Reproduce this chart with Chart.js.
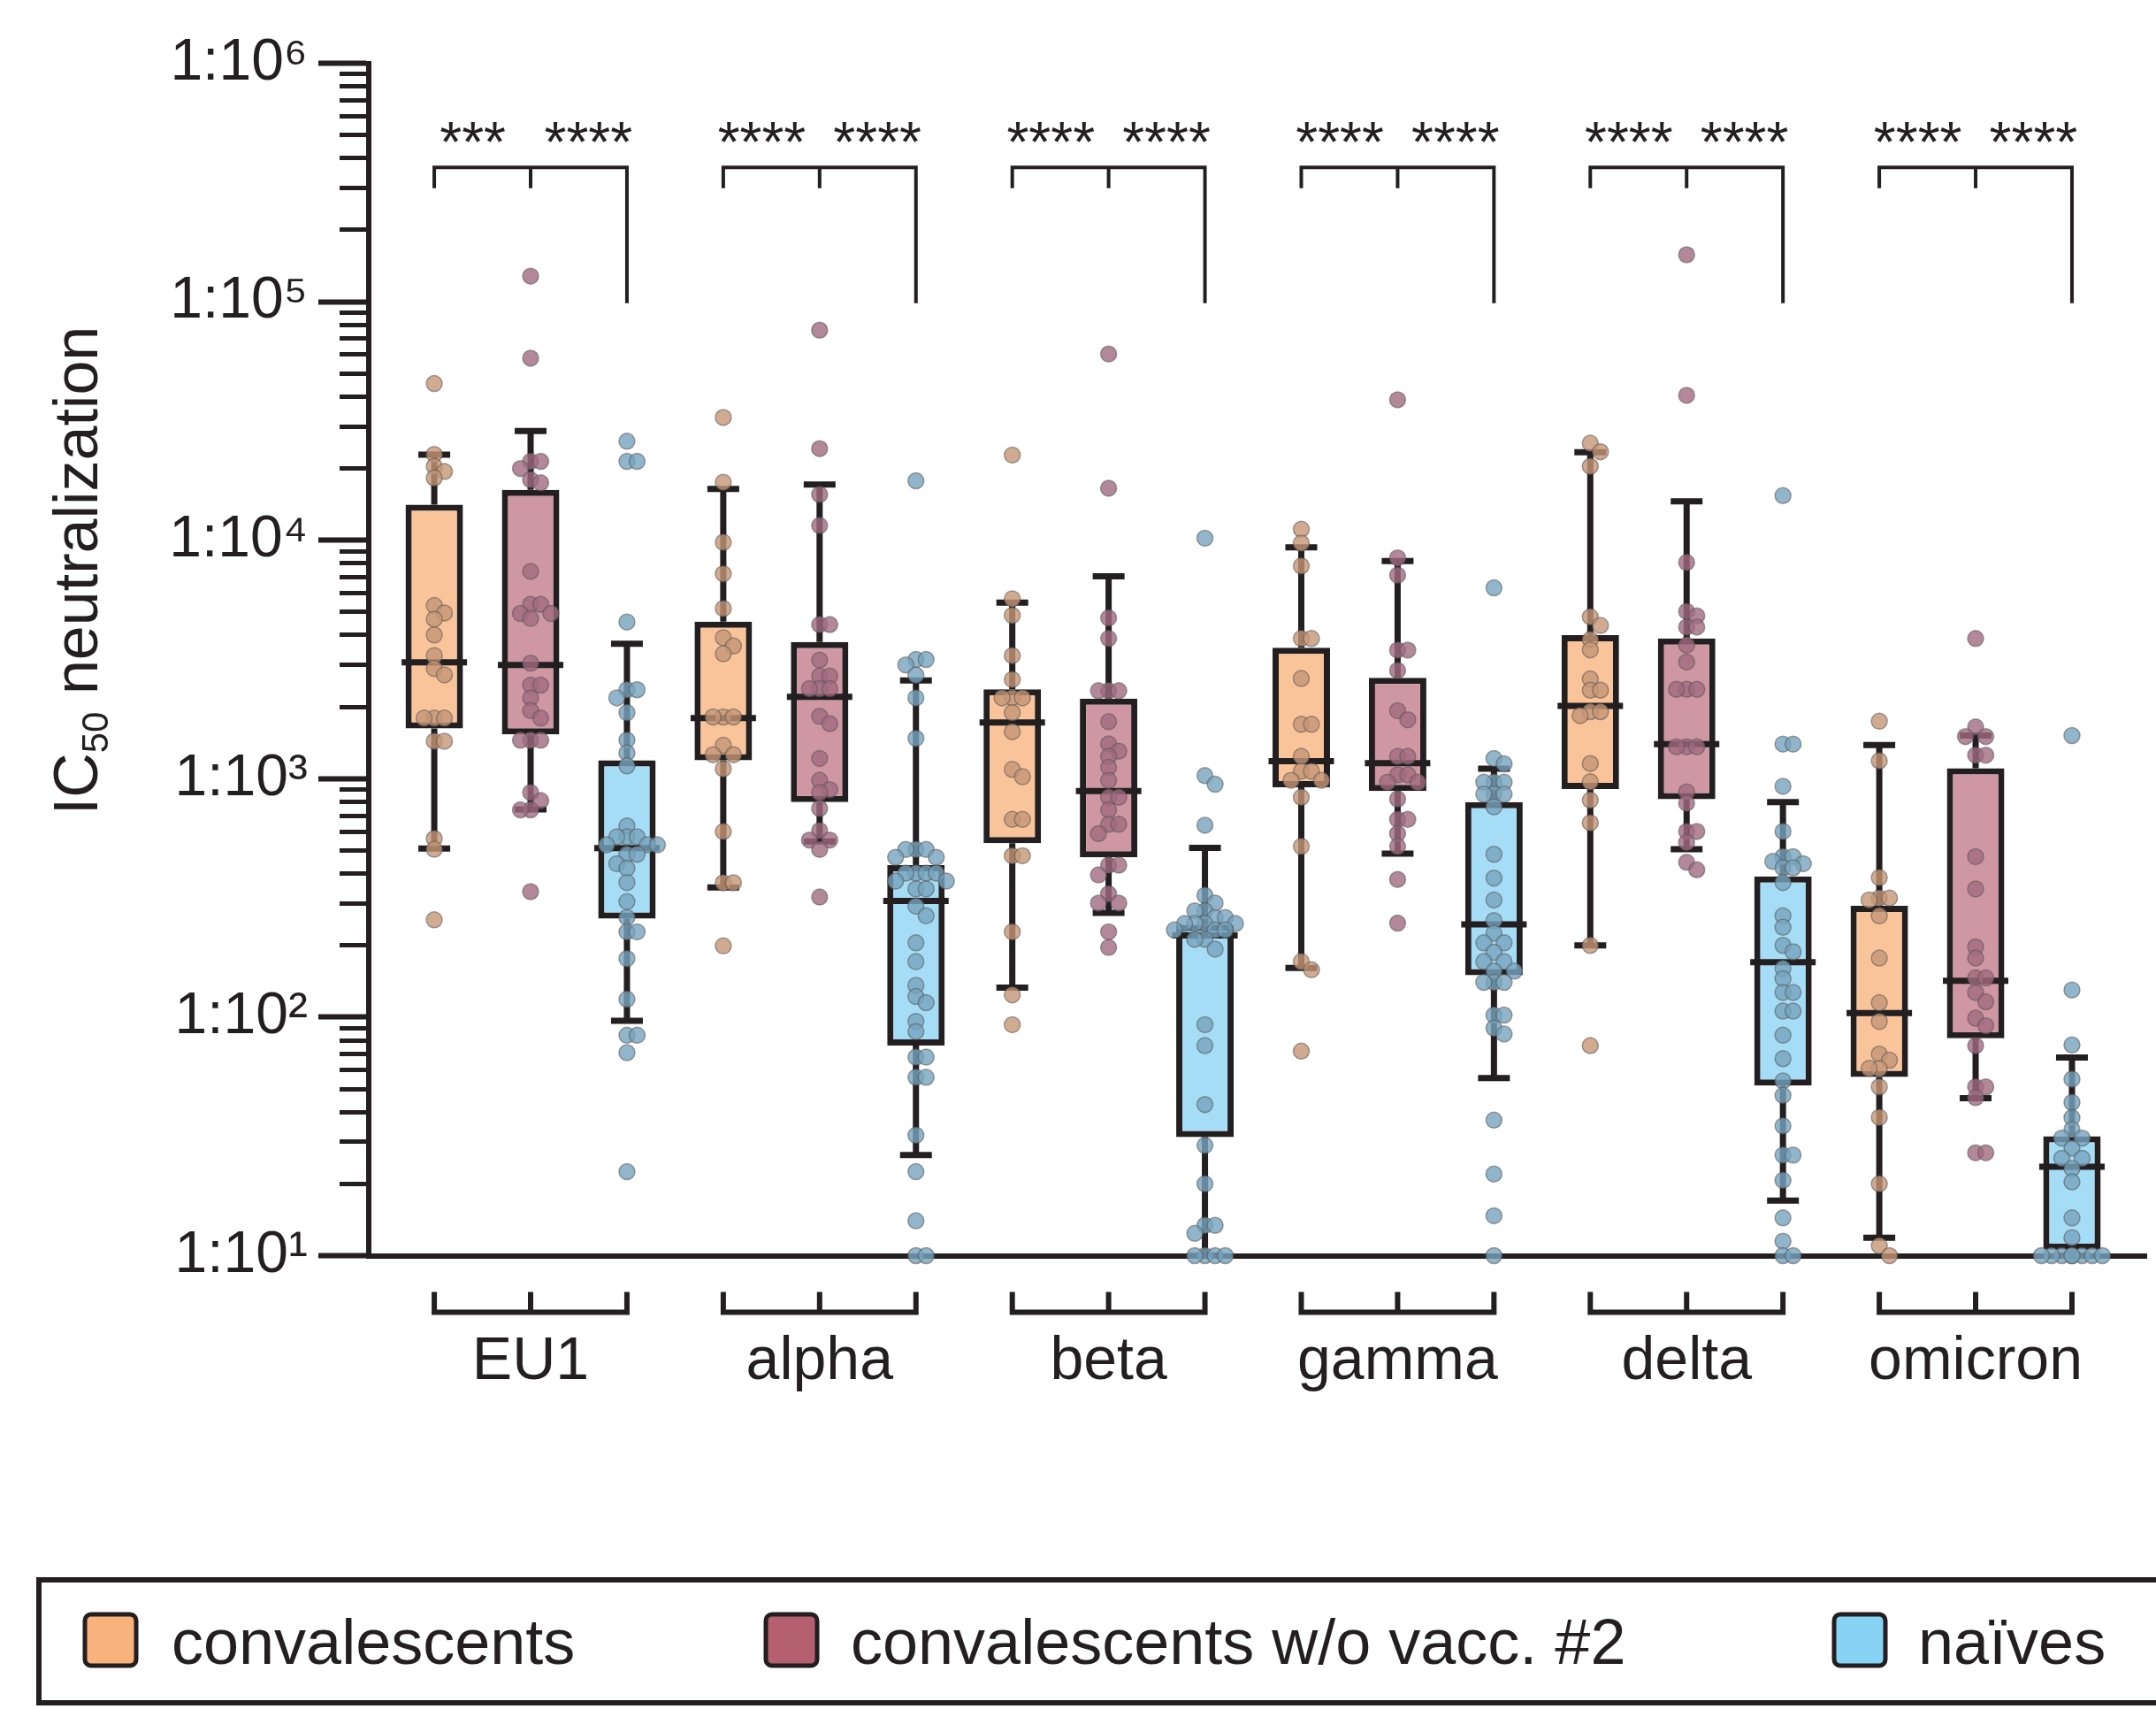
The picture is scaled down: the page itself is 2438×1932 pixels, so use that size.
<!DOCTYPE html>
<html>
<head>
<meta charset="utf-8">
<title>IC50 neutralization by SARS-CoV-2 variant</title>
<script src="https://cdn.jsdelivr.net/npm/chart.js@4.4.1/dist/chart.umd.min.js"></script>
<style>
  html, body { margin: 0; padding: 0; background: #ffffff; }
  canvas { display: block; }
</style>
</head>
<body>
<canvas id="chart" width="2438" height="1932"></canvas>
<script>
// ---- categories and series ----
const variants = ['EU1', 'alpha', 'beta', 'gamma', 'delta', 'omicron'];
const cohorts = ['convalescents', 'convalescents w/o vacc. #2', 'naïves'];

// ---- y-axis tick labels ----
const decadeLabels = ['1:10¹', '1:10²', '1:10³', '1:10⁴', '1:10⁵', '1:10⁶'];
const minorMultipliers = [1, 2, 3, 4, 5, 6, 7, 8, 9];

// significance: [convalescents vs naïves, w/o vacc. #2 vs naïves] per variant
const significance = [
  ['***', '****'], ['****', '****'], ['****', '****'],
  ['****', '****'], ['****', '****'], ['****', '****']
];

// ---- box statistics (one value per variant) ----
const convWhiskerLow  = [509, 350, 133, 161, 200, 11.9];
const convQ1          = [1626, 1194, 536, 920, 905, 56.1];
const convMedian      = [3076, 1795, 1721, 1183, 2018, 104];
const convQ3          = [14090, 4560, 2368, 3540, 4000, 293];
const convWhiskerHigh = [22850, 16400, 5470, 9330, 23400, 1384];

const woVaccWhiskerLow  = [743, 545, 274, 485, 506, 45.7];
const woVaccQ1          = [1532, 798, 468, 887, 820, 81.6];
const woVaccMedian      = [3000, 2206, 887, 1161, 1397, 142];
const woVaccQ3          = [16250, 3740, 2168, 2650, 3870, 1107];
const woVaccWhiskerHigh = [28700, 17130, 7060, 8170, 14550, 1517];

const naiveWhiskerLow  = [96.6, 26.4, 10, 55.6, 17, 10];
const naiveQ1          = [259, 76, 31.4, 150, 51.6, 10.6];
const naiveMedian      = [512, 307, 220, 245, 170, 23.6];
const naiveQ3          = [1194, 434, 244, 798, 389, 31.7];
const naiveWhiskerHigh = [3680, 2580, 513, 1101, 798, 67.8];

// ---- individual IC50 titers (one list per variant) ----
const convTiters = [
  [45400, 22900, 20400, 19400, 18250, 5320, 4955, 4667, 4008, 3281, 2899, 2725, 1795, 1795, 1795, 1436, 1436, 561, 506, 256],
  [32700, 17500, 9800, 7230, 5170, 3900, 3600, 3340, 1815, 1815, 1815, 1380, 1260, 1260, 1100, 600, 366, 366, 199],
  [22750, 5680, 4840, 3280, 2605, 2183, 2183, 2183, 1893, 1574, 1094, 1019, 675, 675, 475, 475, 228, 124, 93],
  [11120, 9730, 7800, 3870, 3870, 2630, 1690, 1690, 1240, 1074, 1074, 984, 984, 836, 520, 171, 158, 72],
  [25500, 23500, 20400, 4770, 4390, 3830, 3470, 2620, 2350, 2350, 1910, 1910, 1840, 1157, 970, 813, 653, 200, 76],
  [1742, 1189, 385, 316, 316, 310, 266, 177, 115, 96, 70, 66, 61, 61, 51, 38, 20, 11, 10]
];
const woVaccTiters = [
  [128000, 58000, 21400, 21400, 19970, 17930, 17400, 7400, 5380, 5380, 4930, 4930, 4700, 3050, 2467, 2467, 2183, 1929, 1795, 1450, 1450, 1450, 875, 809, 740, 740, 336],
  [76000, 24200, 15550, 11530, 4430, 4430, 3144, 2697, 2697, 2384, 2384, 2384, 1827, 1702, 1216, 985, 900, 875, 750, 606, 553, 553, 505, 319],
  [60400, 16520, 4720, 3870, 2339, 2339, 2339, 1734, 1400, 1305, 1240, 1115, 984, 836, 836, 740, 644, 644, 588, 434, 434, 395, 329, 301, 301, 228, 196],
  [38800, 8430, 7140, 3460, 3460, 2845, 1928, 1766, 1240, 1240, 1038, 1038, 966, 966, 822, 675, 675, 588, 520, 378, 248],
  [157400, 40500, 8070, 5030, 4820, 4320, 4320, 3630, 3084, 2370, 2370, 2370, 1361, 1361, 1361, 881, 790, 601, 601, 540, 446, 415],
  [3870, 1648, 1502, 1502, 1255, 1255, 471, 345, 197, 177, 146, 146, 127, 116, 99, 92, 76, 51, 51, 46, 27, 27]
];
const naiveTiters = [
  [26000, 21400, 21400, 4540, 2360, 2360, 2183, 1893, 1452, 1282, 1132, 634, 570, 570, 570, 528, 528, 528, 482, 482, 440, 421, 367, 305, 262, 228, 228, 176, 119, 84, 84, 71, 22.5],
  [17740, 3160, 3160, 3000, 2718, 2183, 1476, 505, 505, 505, 468, 468, 402, 402, 402, 402, 372, 372, 345, 345, 292, 266, 205, 171, 136, 122, 115, 96, 87, 68, 68, 56, 56, 32, 22.5, 14, 10, 10],
  [10200, 1030, 948, 638, 324, 301, 279, 279, 262, 262, 247, 247, 247, 247, 232, 232, 232, 212, 212, 193, 93, 76, 43, 29, 20, 13.4, 13.4, 12.4, 10, 10, 10, 10],
  [6310, 1216, 1154, 966, 966, 966, 861, 861, 861, 762, 482, 383, 310, 254, 225, 205, 205, 187, 171, 171, 156, 156, 140, 140, 140, 102, 102, 90, 85, 37, 22, 14.7, 10],
  [15380, 1397, 1397, 929, 601, 471, 471, 450, 440, 423, 423, 367, 266, 238, 200, 188, 160, 145, 127, 127, 106, 106, 84, 67, 54, 47, 35, 26.4, 26.4, 20.7, 14.4, 11.5, 10, 10],
  [1517, 130, 76.5, 55, 43.9, 37.9, 33.8, 31.1, 31.1, 28.2, 25.6, 25.6, 23.2, 20.4, 14.4, 11.9, 10, 10, 10, 10, 10, 10, 10, 10]
];

// ---- styling ----
const INK = '#231f20';
const FONT = '"Liberation Sans", Arial, Helvetica, sans-serif';
const boxFill    = ['#fac49b', '#cf97a3', '#a6ddf6'];
const legendFill = ['#f8b27c', '#b5606f', '#86d3f3'];
const pointFill  = ['rgba(196,150,117,0.8)', 'rgba(160,106,126,0.8)', 'rgba(118,164,190,0.8)'];
const pointEdge  = 'rgba(90,86,86,0.55)';
const LINE_W = 7;

// ---- layout ----
const CANVAS_W = 2438, CANVAS_H = 1932;
const PLOT_LEFT = 417, PLOT_TOP = 71.5, PLOT_BOTTOM = 1419.5;
const X_MIN = -0.56, X_MAX = 5.592;
const cohortOffset = [-1 / 3, 0, 1 / 3];
const BOX_W = 65, CAP_HALF = 18, MEDIAN_HALF = 37;
const POINT_R = 9;
const BRACKET_TOP = 3.66e5, BRACKET_SHORT = 2.99e5, BRACKET_LONG = 9.85e4;
const STAR_SHIFT = 0.2;

const boxStats = [
  {lo: convWhiskerLow, q1: convQ1, med: convMedian, q3: convQ3, hi: convWhiskerHigh},
  {lo: woVaccWhiskerLow, q1: woVaccQ1, med: woVaccMedian, q3: woVaccQ3, hi: woVaccWhiskerHigh},
  {lo: naiveWhiskerLow, q1: naiveQ1, med: naiveMedian, q3: naiveQ3, hi: naiveWhiskerHigh}
];
const titers = [convTiters, woVaccTiters, naiveTiters];

const isDecade = (v) => {
  const l = Math.log10(v);
  return Math.abs(l - Math.round(l)) < 1e-9;
};

// spread overlapping points sideways (pixel offsets), largest value first
function swarmOffsets(values, yScale) {
  const STEP = 11.5, MIN_DIST = 11.5;
  const cands = [0, 1, -1, 2, -2, 3, -3].map(k => k * STEP);
  const order = values.map((v, i) => i).sort((a, b) => values[b] - values[a]);
  const placed = [];
  const out = new Array(values.length).fill(0);
  for (const i of order) {
    const py = yScale.getPixelForValue(values[i]);
    let best = 0, bestD = -1;
    for (const ox of cands) {
      let dmin = Infinity;
      for (const p of placed) {
        const d = Math.hypot(ox - p.x, py - p.y);
        if (d < dmin) dmin = d;
      }
      if (dmin >= MIN_DIST) { best = ox; break; }
      if (dmin > bestD) { bestD = dmin; best = ox; }
    }
    placed.push({x: best, y: py});
    out[i] = best;
  }
  return out;
}

function buildDatasets(pxPerUnit, yScale) {
  const ds = [];
  // box bodies (Q1..Q3)
  cohorts.forEach((name, s) => {
    const st = boxStats[s];
    ds.push({
      type: 'bar', label: name,
      data: variants.map((v, g) => ({x: g + cohortOffset[s], y: [st.q1[g], st.q3[g]]})),
      backgroundColor: boxFill[s], borderColor: INK, borderWidth: LINE_W, borderSkipped: false,
      grouped: false, maxBarThickness: BOX_W, order: 3
    });
  });
  // whiskers, caps and medians
  cohorts.forEach((name, s) => {
    const st = boxStats[s];
    const cap = CAP_HALF / pxPerUnit, med = MEDIAN_HALF / pxPerUnit;
    const pts = [];
    variants.forEach((v, g) => {
      const xc = g + cohortOffset[s];
      const gap = () => ({x: xc, y: null});
      pts.push({x: xc, y: st.hi[g]}, {x: xc, y: st.q3[g]}, gap(),
               {x: xc, y: st.q1[g]}, {x: xc, y: st.lo[g]}, gap(),
               {x: xc - cap, y: st.hi[g]}, {x: xc + cap, y: st.hi[g]}, gap(),
               {x: xc - cap, y: st.lo[g]}, {x: xc + cap, y: st.lo[g]}, gap(),
               {x: xc - med, y: st.med[g]}, {x: xc + med, y: st.med[g]}, gap());
    });
    ds.push({
      type: 'line', label: name + ' whiskers', data: pts,
      borderColor: INK, borderWidth: LINE_W, pointRadius: 0, spanGaps: false,
      fill: false, tension: 0, clip: false, order: 2, borderCapStyle: 'butt'
    });
  });
  // individual sera
  cohorts.forEach((name, s) => {
    const data = [];
    variants.forEach((v, g) => {
      const vals = titers[s][g];
      const offs = yScale ? swarmOffsets(vals, yScale) : vals.map(() => 0);
      vals.forEach((val, i) => data.push({x: g + cohortOffset[s] + offs[i] / pxPerUnit, y: val}));
    });
    ds.push({
      type: 'scatter', label: name + ' sera', data,
      pointRadius: POINT_R, pointHoverRadius: POINT_R,
      backgroundColor: pointFill[s], borderColor: pointEdge, borderWidth: 1.5,
      clip: false, order: 1
    });
  });
  return ds;
}

function roundedRect(ctx, x, y, w, h, r) {
  ctx.beginPath();
  ctx.moveTo(x + r, y);
  ctx.arcTo(x + w, y, x + w, y + h, r);
  ctx.arcTo(x + w, y + h, x, y + h, r);
  ctx.arcTo(x, y + h, x, y, r);
  ctx.arcTo(x, y, x + w, y, r);
  ctx.closePath();
}

// brackets, significance stars, axis title and legend
const figureExtras = {
  id: 'figureExtras',
  afterDraw(chart) {
    const {ctx, chartArea} = chart;
    const x = chart.scales.x, y = chart.scales.y;
    ctx.save();
    ctx.strokeStyle = INK;
    ctx.fillStyle = INK;
    ctx.lineCap = 'butt';
    ctx.lineJoin = 'miter';

    const yTop = y.getPixelForValue(BRACKET_TOP);
    const yShort = y.getPixelForValue(BRACKET_SHORT);
    const yLong = y.getPixelForValue(BRACKET_LONG);
    const yLine = chartArea.bottom + 64, yTick = chartArea.bottom + 41;

    variants.forEach((v, g) => {
      const xa = x.getPixelForValue(g + cohortOffset[0]);
      const xb = x.getPixelForValue(g + cohortOffset[1]);
      const xc = x.getPixelForValue(g + cohortOffset[2]);
      // comparison bracket above the boxes
      ctx.lineWidth = 4;
      ctx.beginPath();
      ctx.moveTo(xa, yShort); ctx.lineTo(xa, yTop); ctx.lineTo(xc, yTop); ctx.lineTo(xc, yLong);
      ctx.moveTo(xb, yTop); ctx.lineTo(xb, yShort);
      ctx.stroke();
      ctx.font = '64px ' + FONT;
      ctx.textAlign = 'center';
      ctx.textBaseline = 'alphabetic';
      ctx.fillText(significance[g][0], x.getPixelForValue(g - STAR_SHIFT), yTop - 6);
      ctx.fillText(significance[g][1], x.getPixelForValue(g + STAR_SHIFT), yTop - 6);
      // group bracket below the axis
      ctx.lineWidth = 6;
      ctx.beginPath();
      ctx.moveTo(xa, yTick); ctx.lineTo(xa, yLine); ctx.lineTo(xc, yLine); ctx.lineTo(xc, yTick);
      ctx.moveTo(xb, yLine); ctx.lineTo(xb, yTick);
      ctx.stroke();
    });

    // y-axis title with subscript
    ctx.save();
    ctx.translate(110, 645);
    ctx.rotate(-Math.PI / 2);
    ctx.textBaseline = 'alphabetic';
    ctx.textAlign = 'left';
    const big = '70px ' + FONT, small = '42px ' + FONT;
    ctx.font = big; const wIC = ctx.measureText('IC').width;
    ctx.font = small; const w50 = ctx.measureText('50').width;
    ctx.font = big; const wRest = ctx.measureText(' neutralization').width;
    let tx = -(wIC + w50 + wRest) / 2;
    ctx.font = big; ctx.fillText('IC', tx, 0); tx += wIC;
    ctx.font = small; ctx.fillText('50', tx, 12); tx += w50;
    ctx.font = big; ctx.fillText(' neutralization', tx, 0);
    ctx.restore();

    // legend
    ctx.lineWidth = 6;
    ctx.strokeRect(44, 1786, CANVAS_W, 139);
    const swatchX = [96, 866, 2074], textX = [194, 962, 2169];
    ctx.font = '72px ' + FONT;
    ctx.textAlign = 'left';
    ctx.textBaseline = 'alphabetic';
    cohorts.forEach((name, s) => {
      roundedRect(ctx, swatchX[s], 1825, 58, 58, 7);
      ctx.fillStyle = legendFill[s];
      ctx.fill();
      ctx.lineWidth = 5;
      ctx.strokeStyle = INK;
      ctx.stroke();
      ctx.fillStyle = INK;
      ctx.fillText(name, textX[s], 1881);
    });
    ctx.restore();
  }
};

Chart.defaults.font.family = FONT;
Chart.defaults.color = INK;

const chart = new Chart(document.getElementById('chart'), {
  type: 'bar',
  data: {datasets: buildDatasets(328.5, null)},
  options: {
    responsive: false,
    animation: false,
    devicePixelRatio: 1,
    events: [],
    layout: {padding: {left: 43, top: PLOT_TOP, right: 0, bottom: 0}},
    plugins: {legend: {display: false}, tooltip: {enabled: false}, title: {display: false}},
    scales: {
      x: {
        type: 'linear', min: X_MIN, max: X_MAX, offset: false, position: 'bottom',
        grid: {display: false, drawTicks: false},
        border: {display: true, color: INK, width: 6},
        ticks: {
          autoSkip: false, maxRotation: 0, minRotation: 0, padding: 80, color: INK,
          font: {size: 68},
          callback: (v) => (variants[v] !== undefined ? variants[v] : '')
        },
        afterBuildTicks: (scale) => { scale.ticks = variants.map((_, i) => ({value: i})); },
        afterFit: (scale) => {
          scale.height = CANVAS_H - PLOT_BOTTOM;
          scale.paddingLeft = 0;
          scale.paddingRight = 0;
        }
      },
      y: {
        type: 'logarithmic', min: 10, max: 1e6, position: 'left',
        grid: {
          drawOnChartArea: false, drawTicks: true, tickLength: 57, tickColor: INK,
          tickWidth: (c) => (c.tick && !isDecade(c.tick.value) ? 5 : 6),
          tickBorderDash: (c) => (c.tick && !isDecade(c.tick.value) ? [30, 24] : []),
          tickBorderDashOffset: (c) => (c.tick && !isDecade(c.tick.value) ? 30 : 0)
        },
        border: {display: true, color: INK, width: 6},
        ticks: {
          autoSkip: false, padding: 12, color: INK, font: {size: 66},
          callback: (v) => (isDecade(v) ? decadeLabels[Math.round(Math.log10(v)) - 1] : '')
        },
        afterBuildTicks: (scale) => {
          const ticks = [];
          decadeLabels.forEach((lab, d) => {
            minorMultipliers.forEach((m) => {
              const v = m * Math.pow(10, d + 1);
              if (v <= 1e6) ticks.push({value: v});
            });
          });
          scale.ticks = ticks;
        },
        afterFit: (scale) => {
          scale.width = PLOT_LEFT - 43;
          scale.paddingTop = 0;
          scale.paddingBottom = 0;
        }
      }
    }
  },
  plugins: [figureExtras]
});

// second pass: place the sera with the real pixel scales
const pxPerUnit = chart.scales.x.getPixelForValue(1) - chart.scales.x.getPixelForValue(0);
chart.data.datasets = buildDatasets(pxPerUnit, chart.scales.y);
chart.update();
</script>
</body>
</html>
